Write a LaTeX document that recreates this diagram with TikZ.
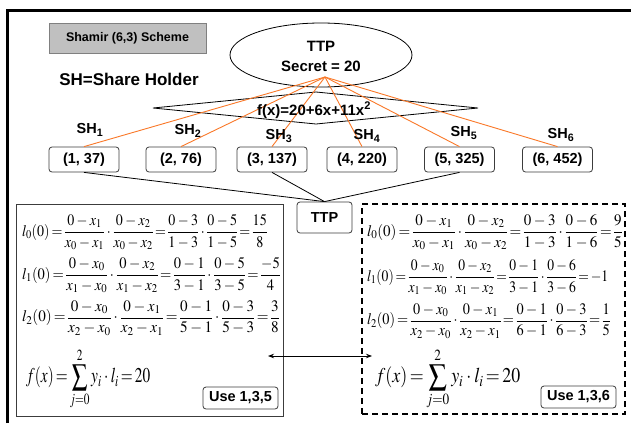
\documentclass[tikz,border=0pt]{standalone}
\usepackage{amsmath}
\usepackage{graphicx}
\usepackage{mathptmx}
\usepackage[no-math]{fontspec}
\setmainfont{Liberation Sans}
\usetikzlibrary{shapes.geometric,arrows.meta}
\definecolor{orng}{RGB}{250,120,40}
\definecolor{ttl}{RGB}{192,192,192}
\definecolor{dk}{RGB}{60,60,60}
\newcommand{\bfs}[1]{\bfseries\fontsize{#1}{#1}\selectfont}
\newcommand{\tightmath}{\thickmuskip=2.5mu\medmuskip=3mu\nulldelimiterspace=0.5pt}
\newcommand{\fitw}[2]{\resizebox{#1}{\height}{#2}}
\begin{document}
\begin{tikzpicture}[x=1pt,y=-1pt,
  lbl/.style={font=\bfs{14.5}, inner sep=0pt},
  sbox/.style={draw=dk, line width=0.8pt, rounded corners=3pt, minimum width=70pt,
    minimum height=25pt, inner sep=0pt, fill=white, font=\bfs{14.5}},
  orl/.style={draw=orng, line width=0.9pt},
  blk/.style={draw=black, line width=0.8pt},
  eqn/.style={anchor=west, inner sep=0pt, font=\fontsize{16}{19}\selectfont\tightmath},
  sumeq/.style={anchor=west, inner sep=0pt, font=\fontsize{21}{24}\selectfont\tightmath},
  usebox/.style={draw=dk, line width=0.8pt, rounded corners=3pt, minimum width=75pt,
    minimum height=22pt, inner sep=0pt, fill=white, font=\bfs{14.5}},
  arr/.style={line width=0.8pt, {Stealth[length=6pt,width=4.5pt]}-{Stealth[length=6pt,width=4.5pt]}}
]
\useasboundingbox (0,0) rectangle (631,423);
\fill[white] (0,0) rectangle (631,423);
% outer frame
\draw[line width=3pt] (7,423) -- (7,10) -- (631,10);
% title
\node[draw=gray, fill=ttl, line width=0.8pt, minimum width=157pt, minimum height=30pt, inner sep=0pt, font=\bfs{12.5}] (title) at (127.5,38) {Shamir (6,3) Scheme};
\node[font=\bfs{17}, inner sep=0pt] (shh) at (129,79) {SH=Share Holder};
% TTP ellipse
\node[ellipse, draw, line width=0.8pt, minimum width=182pt, minimum height=64pt, inner sep=0pt] (ttp) at (321,55) {};
\node[font=\bfs{15}, inner sep=0pt] (ttpa) at (321,46) {TTP};
\node[font=\bfs{15}, inner sep=0pt] (ttpb) at (321,66) {Secret = 20};
% diamond
\draw[line width=0.8pt, fill=white] (153,108) -- (316,92) -- (478,108) -- (316,124) -- cycle;
% share boxes
\node[sbox] (b1) at (84,159.5) {(1, 37)};
\node[sbox] (b2) at (181,159.5) {(2, 76)};
\node[sbox] (b3) at (272,159.5) {(3, 137)};
\node[sbox] (b4) at (362,159.5) {(4, 220)};
\node[sbox] (b5) at (459.5,159.5) {(5, 325)};
\node[sbox] (b6) at (557.5,159.5) {(6, 452)};
% orange lines
\coordinate (src) at (325,77);
\foreach \b in {b1,b2,b3,b4,b5,b6} \draw[orl] (src) -- (\b.north);
\node[font=\bfs{15}, inner sep=0pt] (fx) at (314,110) {f(x)=20+6x+11x\textsuperscript{2}};
% SH labels
\node[lbl] (s1) at (90,130) {SH\textsubscript{1}};
\node[lbl] (s2) at (188,131) {SH\textsubscript{2}};
\node[lbl] (s3) at (279,136) {SH\textsubscript{3}};
\node[lbl] (s4) at (367,136) {SH\textsubscript{4}};
\node[lbl] (s5) at (464,133) {SH\textsubscript{5}};
\node[lbl] (s6) at (561,135) {SH\textsubscript{6}};
% TTP box
\node[sbox, minimum width=55pt, minimum height=31pt] (t2) at (324.5,217.5) {TTP};
\draw[blk] (b1.south) -- (t2.north);
\draw[blk] (b3.south) -- (t2.north);
\draw[blk] (b5.south) -- (t2.north);
% left box
\node[draw=dk, line width=0.8pt, minimum width=267pt, minimum height=212pt, inner sep=0pt] (lb) at (149.5,310) {};
% right dashed box
\node[draw=black, line width=1.8pt, dash pattern=on 6pt off 4pt, minimum width=263pt, minimum height=210pt, inner sep=0pt] (rb) at (493.5,309) {};
% left equations
\node[eqn] (l0) at (22,232) {\fitw{245pt}{$l_0(0)=\dfrac{0-x_1}{x_0-x_1}\cdot\dfrac{0-x_2}{x_0-x_2}=\dfrac{0-3}{1-3}\cdot\dfrac{0-5}{1-5}=\dfrac{15}{8}$}};
\node[eqn] (l1) at (22,275) {\fitw{258pt}{$l_1(0)=\dfrac{0-x_0}{x_1-x_0}\cdot\dfrac{0-x_2}{x_1-x_2}=\dfrac{0-1}{3-1}\cdot\dfrac{0-5}{3-5}=\dfrac{-5}{4}$}};
\node[eqn] (l2) at (22,318) {\fitw{257pt}{$l_2(0)=\dfrac{0-x_0}{x_2-x_0}\cdot\dfrac{0-x_1}{x_2-x_1}=\dfrac{0-1}{5-1}\cdot\dfrac{0-3}{5-3}=\dfrac{3}{8}$}};
\node[sumeq] (fl) at (26,379) {\fitw{124pt}{$f(x)=\displaystyle\sum_{j=0}^{2}y_i\cdot l_i=20$}};
% right equations
\node[eqn] (r0) at (367,232) {\fitw{255pt}{$l_0(0)=\dfrac{0-x_1}{x_0-x_1}\cdot\dfrac{0-x_2}{x_0-x_2}=\dfrac{0-3}{1-3}\cdot\dfrac{0-6}{1-6}=\dfrac{9}{5}$}};
\node[eqn] (r1) at (367,277) {\fitw{241pt}{$l_1(0)=\dfrac{0-x_0}{x_1-x_0}\cdot\dfrac{0-x_2}{x_1-x_2}=\dfrac{0-1}{3-1}\cdot\dfrac{0-6}{3-6}=-1$}};
\node[eqn] (r2) at (367,321) {\fitw{243pt}{$l_2(0)=\dfrac{0-x_0}{x_2-x_0}\cdot\dfrac{0-x_1}{x_2-x_1}=\dfrac{0-1}{6-1}\cdot\dfrac{0-3}{6-3}=\dfrac{1}{5}$}};
\node[sumeq] (fr) at (375,379) {\fitw{145pt}{$f(x)=\displaystyle\sum_{j=0}^{2}y_i\cdot l_i=20$}};
% use boxes
\node[usebox] (u1) at (240.5,398) {Use 1,3,5};
\node[usebox] (u2) at (578.5,397) {Use 1,3,6};
% arrow
\coordinate (al) at (268,356);
\coordinate (ar) at (372,356);
\draw[arr] (al) -- (ar);
\end{tikzpicture}
\end{document}
